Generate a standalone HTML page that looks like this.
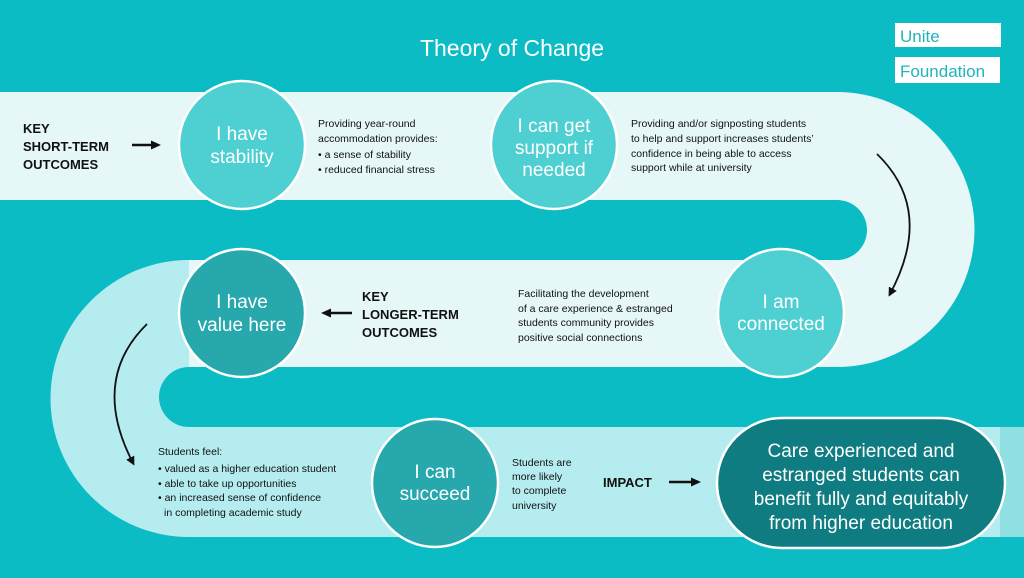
<!DOCTYPE html>
<html><head><meta charset="utf-8"><style>
html,body{margin:0;padding:0;background:#0cbcc4;}
svg{display:block}
text{font-family:"Liberation Sans",sans-serif;}
</style></head><body>
<svg width="1024" height="578" viewBox="0 0 1024 578" xmlns="http://www.w3.org/2000/svg">
<defs><marker id="ah" markerWidth="10" markerHeight="10" refX="7" refY="5" orient="auto" markerUnits="userSpaceOnUse"><path d="M0,0.5 L10,5 L0,9.5 Z" fill="#111"/></marker>
<marker id="ah2" markerWidth="9" markerHeight="9" refX="6" refY="4.5" orient="auto" markerUnits="userSpaceOnUse"><path d="M0,0 L9,4.5 L0,9 Z" fill="#111"/></marker></defs>
<rect width="1024" height="578" fill="#0cbcc4"/>
<path d="M189,260 A138.5,138.5 0 0 0 189,537 L1024,537 L1024,427 L189,427 A30,30 0 0 1 189,367 Z" fill="#b5ecef"/>
<rect x="1000" y="427" width="24" height="110" fill="#8fdfe3"/>
<path d="M0,92 L837,92 A137.5,137.5 0 0 1 837,367 L189,367 L189,260 L837,260 A30,30 0 0 0 837,200 L0,200 Z" fill="#e6f7f8"/>
<text x="512" y="56" fill="#fff" font-size="23" text-anchor="middle">Theory of Change</text>
<rect x="895" y="23" width="106" height="24" fill="#fff"/>
<rect x="895" y="57" width="105" height="26" fill="#fff"/>
<text x="900" y="42" fill="#1fb5bb" font-size="17">Unite</text>
<text x="900" y="77" fill="#1fb5bb" font-size="17">Foundation</text>
<g font-weight="bold" font-size="13" fill="#111">
<text x="23" y="133">KEY</text><text x="23" y="151">SHORT-TERM</text><text x="23" y="169">OUTCOMES</text>
<text x="362" y="301">KEY</text><text x="362" y="319">LONGER-TERM</text><text x="362" y="337">OUTCOMES</text>
<text x="603" y="487">IMPACT</text>
</g>
<line x1="132" y1="145" x2="158" y2="145" stroke="#111" stroke-width="2.5" marker-end="url(#ah)"/>
<line x1="352" y1="313" x2="324" y2="313" stroke="#111" stroke-width="2.5" marker-end="url(#ah)"/>
<line x1="669" y1="482" x2="698" y2="482" stroke="#111" stroke-width="2.5" marker-end="url(#ah)"/>
<path d="M877,154 Q935,210 890,294" fill="none" stroke="#111" stroke-width="1.8" marker-end="url(#ah2)"/>
<path d="M147,324 Q90,380 133,463" fill="none" stroke="#111" stroke-width="1.8" marker-end="url(#ah2)"/>
<g font-size="10.5" fill="#111">
<text x="318" y="127">Providing year-round</text><text x="318" y="142">accommodation provides:</text>
<text x="318" y="158">• a sense of stability</text><text x="318" y="173">• reduced financial stress</text>
<text x="631" y="127">Providing and/or signposting students</text><text x="631" y="142">to help and support increases students’</text>
<text x="631" y="157">confidence in being able to access</text><text x="631" y="171">support while at university</text>
<text x="518" y="297">Facilitating the development</text><text x="518" y="312">of a care experience &amp; estranged</text>
<text x="518" y="326">students community provides</text><text x="518" y="341">positive social connections</text>
<text x="158" y="455">Students feel:</text>
<text x="158" y="472">• valued as a higher education student</text>
<text x="158" y="487">• able to take up opportunities</text>
<text x="158" y="501">• an increased sense of confidence</text>
<text x="164" y="516">in completing academic study</text>
<text x="512" y="466">Students are</text><text x="512" y="480">more likely</text><text x="512" y="494">to complete</text><text x="512" y="509">university</text>
</g>
<g stroke="#fff" stroke-width="2.5">
<ellipse cx="242" cy="145" rx="63" ry="64" fill="#4ecfd2"/>
<ellipse cx="554" cy="145" rx="63" ry="64" fill="#4ecfd2"/>
<ellipse cx="781" cy="313" rx="63" ry="64" fill="#4ecfd2"/>
<ellipse cx="242" cy="313" rx="63" ry="64" fill="#27a8ad"/>
<ellipse cx="435" cy="483" rx="63" ry="64" fill="#27a8ad"/>
<rect x="717" y="418" width="288" height="130" rx="65" fill="#0e7c80"/>
</g>
<g fill="#fff" font-size="19" text-anchor="middle">
<text x="242" y="140">I have</text><text x="242" y="163">stability</text>
<text x="554" y="132">I can get</text><text x="554" y="154">support if</text><text x="554" y="176">needed</text>
<text x="781" y="308">I am</text><text x="781" y="330">connected</text>
<text x="242" y="308">I have</text><text x="242" y="331">value here</text>
<text x="435" y="478">I can</text><text x="435" y="500">succeed</text>
<text x="861" y="457">Care experienced and</text><text x="861" y="481">estranged students can</text>
<text x="861" y="505">benefit fully and equitably</text><text x="861" y="529">from higher education</text>
</g>
</svg>
</body></html>
